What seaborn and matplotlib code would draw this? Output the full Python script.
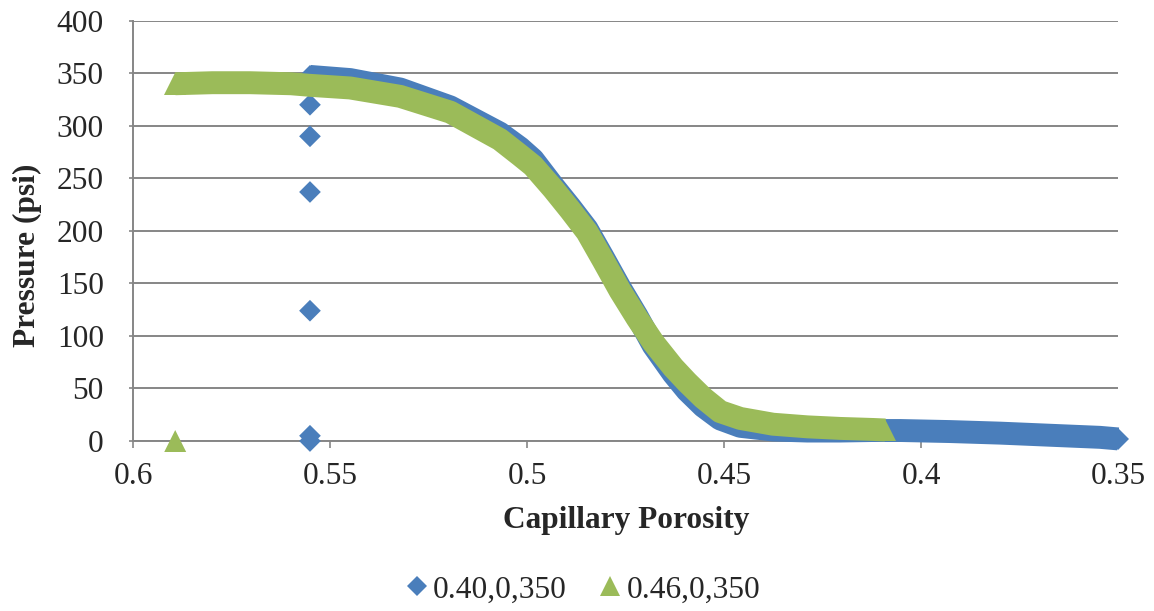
import matplotlib
matplotlib.use("Agg")
import matplotlib.pyplot as plt
from matplotlib.lines import Line2D
import seaborn as sns

# Pressure (psi) against capillary porosity for two mixes
blue_label = "0.40,0,350"
green_label = "0.46,0,350"

blue_curve_x = [0.5551, 0.5449, 0.5322, 0.5195, 0.5069, 0.5018, 0.4985, 0.4934,
                0.4891, 0.4848, 0.4807, 0.4764, 0.4721, 0.4680, 0.4629, 0.4594,
                0.4553, 0.4510, 0.4459, 0.4376, 0.4289, 0.4206, 0.4122, 0.4053,
                0.3926, 0.3799, 0.3673, 0.3546, 0.3500]
blue_curve_y = [347, 344, 335, 318, 293, 279, 268, 243,
                223, 202, 175, 146, 119, 91, 64, 48,
                33, 21, 14, 10.5, 9.5, 9.5, 10, 10,
                9, 7.5, 5.5, 3.5, 2]
blue_jump_x = [0.5551, 0.5551, 0.5551, 0.5551, 0.5551, 0.5551]
blue_jump_y = [320, 290, 237, 124, 5, 0]

green_curve_x = [0.5893, 0.5799, 0.5703, 0.5599, 0.5551, 0.5449, 0.5322, 0.5195,
                 0.5069, 0.5018, 0.4985, 0.4934, 0.4891, 0.4848, 0.4807, 0.4764,
                 0.4721, 0.4680, 0.4629, 0.4594, 0.4553, 0.4510, 0.4459, 0.4376,
                 0.4289, 0.4206, 0.4122, 0.4091]
green_curve_y = [340, 341, 341, 340, 338.5, 336, 328, 313,
                 287, 272, 262, 240, 220, 199, 172, 143,
                 117, 94, 70, 56, 41, 28, 21.5, 16,
                 13.5, 12, 11, 10.5]
green_jump_x = [0.5893]
green_jump_y = [0]

x_ticks = [0.6, 0.55, 0.5, 0.45, 0.4, 0.35]
x_tick_labels = ["0.6", "0.55", "0.5", "0.45", "0.4", "0.35"]
y_ticks = [0, 50, 100, 150, 200, 250, 300, 350, 400]
y_tick_labels = ["0", "50", "100", "150", "200", "250", "300", "350", "400"]

BLUE = "#4A7EBB"
GREEN = "#9BBB59"
GRID = "#868686"
FS = 22.6
BAND = 16.5  # width of the dense marker trail, in points

sns.set_style("white")
plt.rcParams["font.family"] = ["Liberation Serif", "DejaVu Serif"]

fig = plt.figure(figsize=(11.54, 6.11), dpi=100)
ax = fig.add_axes([0.1153, 0.2782, 0.8536, 0.6879])

# blue series: thick marker trail plus the isolated readings
sns.lineplot(x=blue_curve_x, y=blue_curve_y, ax=ax, sort=False, estimator=None,
             color=BLUE, linewidth=BAND, marker="D", markersize=11.2,
             markevery=[0, len(blue_curve_x) - 1],
             markeredgewidth=0, solid_capstyle="butt", solid_joinstyle="round",
             legend=False, zorder=3, clip_on=False)
sns.scatterplot(x=blue_jump_x, y=blue_jump_y, ax=ax, marker="D", s=122,
                color=BLUE, edgecolor="none", linewidth=0, legend=False,
                zorder=3, clip_on=False)

# green series drawn on top
sns.lineplot(x=green_curve_x, y=green_curve_y, ax=ax, sort=False, estimator=None,
             color=GREEN, linewidth=BAND, marker="^", markersize=16.5,
             markevery=[0, len(green_curve_x) - 1],
             markeredgewidth=0, solid_capstyle="butt", solid_joinstyle="round",
             legend=False, zorder=4, clip_on=False)
sns.scatterplot(x=green_jump_x, y=green_jump_y, ax=ax, marker="^", s=250,
                color=GREEN, edgecolor="none", linewidth=0, legend=False,
                zorder=4, clip_on=False)

ax.set_xlim(0.6, 0.35)
ax.set_ylim(0, 400)
ax.set_xticks(x_ticks)
ax.set_xticklabels(x_tick_labels)
ax.set_yticks(y_ticks)
ax.set_yticklabels(y_tick_labels)

ax.yaxis.grid(True, color=GRID, linewidth=1.4, zorder=0)
ax.xaxis.grid(False)
ax.set_axisbelow(True)
for side in ("top", "right"):
    ax.spines[side].set_visible(False)
for side in ("left", "bottom"):
    ax.spines[side].set_color(GRID)
    ax.spines[side].set_linewidth(1.4)

ax.tick_params(axis="x", direction="out", length=5, width=1.2, color=GRID,
               labelsize=FS, pad=10, bottom=True)
ax.tick_params(axis="y", direction="out", length=3, width=1.2, color=GRID,
               labelsize=FS, pad=18, left=True)

ax.set_xlabel("Capillary Porosity", fontsize=FS, fontweight="bold")
ax.set_ylabel("Pressure (psi)", fontsize=FS, fontweight="bold")
ax.xaxis.set_label_coords(0.5005, -0.1547)
ax.yaxis.set_label_coords(-0.107, 0.4425)
ax.yaxis.label.set_verticalalignment("center")

handles = [
    Line2D([], [], linestyle="none", marker="D", markersize=9.8,
           markerfacecolor=BLUE, markeredgewidth=0),
    Line2D([], [], linestyle="none", marker="^", markersize=15,
           markerfacecolor=GREEN, markeredgewidth=0),
]
fig.legend(handles, [blue_label, green_label], loc="center",
           bbox_to_anchor=(0.5056, 0.0344), ncol=2, frameon=False,
           fontsize=FS, handlelength=0.65, handletextpad=0.2,
           columnspacing=1.05, borderaxespad=0)

fig.savefig("out.png", dpi=100)
